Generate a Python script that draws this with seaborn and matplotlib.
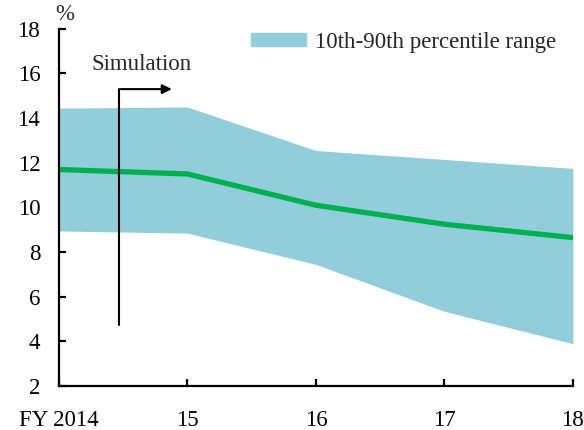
import matplotlib.pyplot as plt
import pandas as pd
import seaborn as sns
from matplotlib.patches import Patch

# Data
years = ['FY 2014', '15', '16', '17', '18']
median = [11.7, 11.5, 10.1, 9.25, 8.65]
p10 = [8.95, 8.85, 7.45, 5.35, 3.9]
p90 = [14.45, 14.5, 12.55, 12.15, 11.75]

df = pd.DataFrame({'pos': range(len(years)), 'median': median, 'p10': p10, 'p90': p90})

sns.set_theme(style='white')
plt.rcParams['font.family'] = ['Liberation Serif', 'DejaVu Serif']

fig = plt.figure(figsize=(5.84, 4.30), dpi=100)
ax = fig.add_axes([0.101, 0.102, 0.880, 0.831])

band_color = '#92CDDC'
ax.fill_between(df['pos'], df['p10'], df['p90'], color=band_color, linewidth=0)
sns.lineplot(data=df, x='pos', y='median', ax=ax, color='#00B050', linewidth=3.8)

ax.set_xlim(0, 4)
ax.set_ylim(2, 18)
ax.set_xticks(df['pos'])
ax.set_xticklabels(years)
ax.set_yticks(range(2, 19, 2))
ax.set_xlabel('')
ax.set_ylabel('')

for side in ['top', 'right']:
    ax.spines[side].set_visible(False)
for side in ['left', 'bottom']:
    ax.spines[side].set_color('black')
    ax.spines[side].set_linewidth(1.6)
ax.tick_params(direction='in', length=5, width=1.6, labelsize=16.5, colors='black',
               bottom=True, left=True)
ax.tick_params(axis='y', pad=13.5)
ax.tick_params(axis='x', pad=17)

ax.text(0.012, 1.012, '%', transform=ax.transAxes, fontsize=16.5, ha='center', va='bottom')

# Simulation arrow
ax.annotate('', xy=(0.9, 15.3), xytext=(0.46, 15.3),
            arrowprops=dict(arrowstyle='-|>', color='black', lw=1.5, mutation_scale=14))
ax.plot([0.47, 0.47], [4.75, 15.3], color='black', linewidth=1.5)
ax.text(0.64, 16.4, 'Simulation', fontsize=16.5, ha='center', va='center')

ax.legend(handles=[Patch(color=band_color, label='10th-90th percentile range')],
          loc='upper right', bbox_to_anchor=(1.008, 1.05), frameon=False, fontsize=16.5,
          handlelength=2.4, handleheight=0.45, handletextpad=0.4)

fig.savefig('out.png', dpi=100)
